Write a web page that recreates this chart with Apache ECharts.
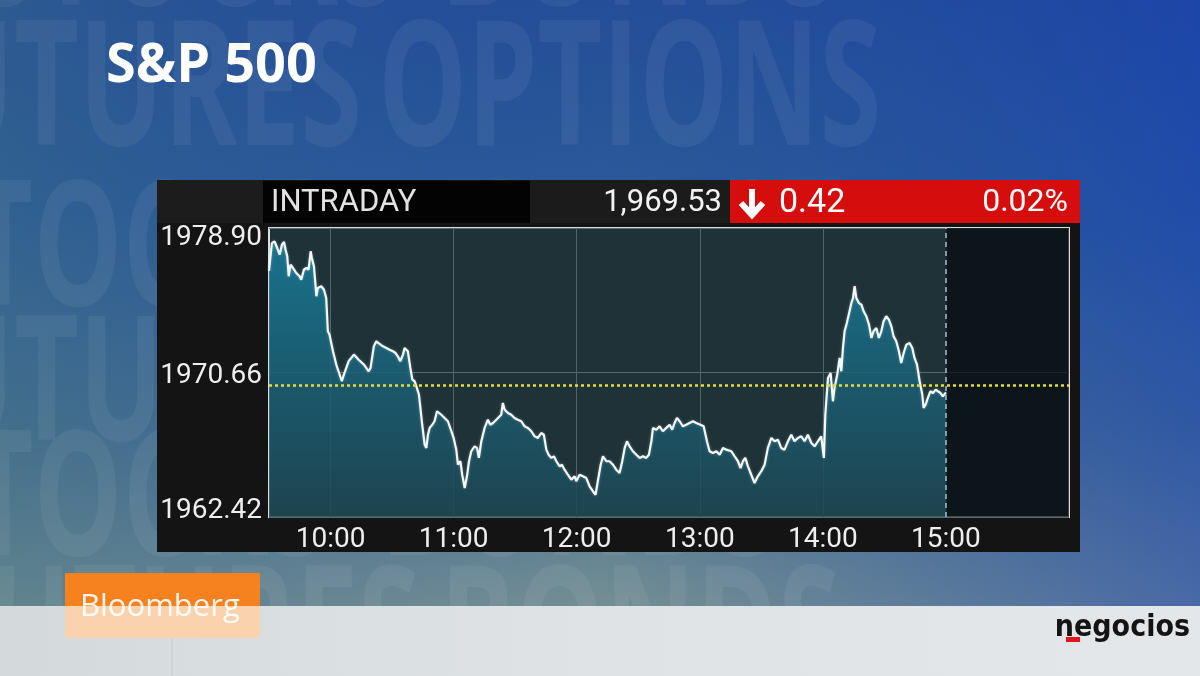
<!DOCTYPE html>
<html>
<head>
<meta charset="utf-8">
<script src="https://cdn.jsdelivr.net/npm/echarts@6/dist/echarts.min.js"></script>
<style>
html,body{margin:0;padding:0;background:#2c5a96;}
#chart{width:1200px;height:676px;}
</style>
</head>
<body>
<div id="chart"></div>
<script>
// ---- data (minutes after the 9:30 open, index level) ----
const minutes = [0,1.4,2.7,4.0,5.2,6.3,7.3,8.1,8.9,9.6,
10.5,11.7,13.3,14.9,15.7,17.0,18.2,19.3,20.3,20.9,
21.9,22.6,23.1,23.8,25.5,26.8,27.9,28.7,29.5,31.2,
32.8,33.9,35.5,36.5,38.8,41.4,43.7,46.3,48.6,49.5,
51.1,52.3,54.4,55.5,57.2,58.8,60.4,61.7,62.8,64.0,
65.3,66.1,66.9,67.7,68.9,69.9,71.0,72.1,73.1,73.8,
74.7,75.9,76.7,77.5,78.3,79.6,80.7,81.9,82.8,84.0,
85.6,87.2,88.9,90.0,91.3,92.1,93.3,94.2,95.4,96.5,
97.5,98.6,100.2,101.4,102.3,103.5,105.1,106.7,107.9,109.2,
110.8,111.6,113.2,114.0,114.9,116.5,118.1,119.7,121.3,123.0,
124.6,126.2,127.9,129.5,131.1,132.7,134.0,135.2,136.3,137.6,
138.9,140.1,141.7,142.8,144.1,145.7,147.4,149.0,149.8,151.4,
153.0,154.7,156.3,157.9,159.2,160.3,161.7,162.8,164.4,166.0,
167.7,169.3,170.9,172.2,173.4,174.5,175.8,177.4,179.1,180.7,
182.3,183.9,185.2,186.4,187.2,188.8,190.4,192.0,193.7,195.3,
196.6,197.7,198.9,200.2,201.8,203.4,205.0,206.7,208.3,210.3,
211.9,213.5,214.8,216.4,218.1,219.7,221.3,222.9,223.7,225.4,
227.0,228.6,229.9,231.0,232.2,233.5,235.1,236.7,238.3,240.0,
241.6,243.2,244.9,246.5,248.1,249.7,251.3,253.0,254.6,256.2,
257.8,259.5,261.1,262.7,264.4,266.0,267.6,269.2,270.5,271.2,
272.5,273.8,274.9,275.7,277.0,278.2,279.0,279.8,280.6,281.7,
283.0,283.9,284.7,285.5,286.3,287.6,288.8,289.9,291.2,292.5,
293.7,294.7,296.1,297.3,298.5,299.6,300.9,302.2,303.4,304.5,
305.8,307.1,308.2,309.4,310.7,312.3,313.6,314.7,315.9,317.2,
318.5,319.1,320.1,321.2,322.4,323.7,325.0,326.1,327.4,328.5,330.0];

const values = [1976.45,1978.04,1978.14,1977.76,1977.38,1977.95,1978.10,1977.66,1977.29,1976.15,
1976.81,1976.62,1976.33,1976.15,1975.95,1976.52,1976.62,1976.52,1977.57,1977.19,
1976.72,1975.76,1975.01,1975.48,1975.58,1975.38,1974.91,1973.01,1972.82,1971.87,
1971.11,1970.73,1970.16,1970.54,1971.30,1971.68,1971.39,1971.11,1970.73,1970.92,
1972.15,1972.44,1972.25,1972.15,1972.06,1971.96,1971.87,1971.77,1971.58,1971.30,
1971.68,1972.06,1972.15,1971.87,1970.92,1970.25,1970.16,1969.78,1969.39,1968.64,
1967.68,1966.54,1966.36,1967.11,1967.50,1967.68,1967.88,1968.45,1968.54,1968.25,
1968.07,1967.88,1967.31,1966.93,1966.26,1965.40,1965.60,1964.83,1964.07,1964.74,
1965.60,1966.17,1966.45,1966.36,1965.79,1966.74,1967.50,1967.97,1967.68,1967.78,
1967.97,1968.07,1968.25,1968.92,1968.54,1968.35,1968.25,1968.07,1967.97,1967.88,
1967.59,1967.50,1967.31,1967.02,1966.93,1967.21,1967.11,1966.26,1965.97,1965.79,
1965.88,1965.60,1965.31,1965.40,1965.12,1964.83,1964.55,1964.74,1964.46,1964.83,
1964.74,1964.64,1964.17,1963.89,1963.69,1964.46,1965.40,1965.88,1965.60,1965.60,
1965.40,1965.12,1964.93,1965.60,1966.36,1966.74,1966.45,1966.17,1965.97,1965.79,
1965.88,1965.79,1965.97,1966.74,1967.50,1967.40,1967.59,1967.31,1967.50,1967.68,
1967.40,1967.78,1968.07,1967.88,1967.59,1967.68,1967.78,1967.88,1967.78,1967.68,
1967.59,1966.74,1966.17,1966.07,1966.17,1965.97,1966.36,1966.26,1966.36,1966.17,
1965.88,1965.60,1965.21,1965.60,1965.79,1965.31,1964.83,1964.36,1964.74,1965.03,
1965.40,1966.36,1966.93,1966.74,1966.83,1966.36,1966.26,1966.74,1967.11,1966.74,
1966.93,1967.02,1966.74,1967.11,1966.64,1966.45,1966.74,1967.02,1965.79,1968.25,
1970.35,1970.63,1969.02,1969.78,1970.54,1971.49,1970.73,1972.06,1973.01,1973.48,
1974.15,1974.62,1974.91,1975.58,1974.91,1974.62,1974.53,1974.15,1973.87,1973.39,
1972.63,1973.01,1973.20,1972.63,1973.01,1973.58,1973.87,1973.67,1973.29,1972.72,
1972.44,1971.87,1971.20,1971.77,1972.25,1972.34,1972.06,1971.49,1971.11,1970.16,
1969.39,1968.64,1968.83,1969.21,1969.59,1969.49,1969.68,1969.59,1969.49,1969.30,1969.53];

const xTickMinutes = [30, 90, 150, 210, 270, 330];       // 10:00 ... 15:00
const yTicks = [1962.42, 1970.66, 1978.90];
const sessionMinutes = [0, 390];                          // 9:30 -> 16:00
const openClock = 9 * 60 + 30;
const nowMinute = 330;                                    // 15:00
const prevClose = 1969.95;
const lastPrice = 1969.53;
const netChange = -0.42;
const pctChange = -0.02;
const titleText = 'S&P 500';
const panelLabel = 'INTRADAY';

// ---- build ----
const seriesData = minutes.map((m, i) => [m, values[i]]);
function clock(m) {
  const t = Math.round(openClock + m);
  const h = Math.floor(t / 60), mm = t % 60;
  return h + ':' + (mm < 10 ? '0' : '') + mm;
}
function fmtThousands(v) {
  const s = v.toFixed(2).split('.');
  return s[0].replace(/\B(?=(\d{3})+(?!\d))/g, ',') + '.' + s[1];
}

const W = 1200, H = 676;
const bgFont = 'bold 175px "Open Sans"';
const bgFill = 'rgba(255,255,255,0.06)';
function bgWord(text, x, y, align) {
  return { type: 'text', z: -90, x: x, y: y, scaleX: 0.64, originX: 0, originY: 0,
    style: { text: text, x: 0, y: 0, font: bgFont, fill: bgFill, align: align, verticalAlign: 'middle' } };
}

const graphics = [
  // page background
  { type: 'rect', z: -100, shape: { x: 0, y: 0, width: W, height: 607 },
    style: { fill: new echarts.graphic.LinearGradient(0, 0, 0, 1, [
      { offset: 0, color: '#244e98' }, { offset: 0.35, color: '#2b5a98' },
      { offset: 0.7, color: '#466f90' }, { offset: 1, color: '#748f93' }]) } },
  { type: 'rect', z: -99, shape: { x: 0, y: 0, width: W, height: 607 },
    style: { fill: new echarts.graphic.LinearGradient(0, 0, 1, 0, [
      { offset: 0, color: 'rgba(60,110,130,0.35)' }, { offset: 0.5, color: 'rgba(30,70,160,0)' },
      { offset: 1, color: 'rgba(20,60,190,0.45)' }]) } },
  // faded background words
  bgWord('STOCKS', 400, -45, 'right'), bgWord('BONDS', 440, -45, 'left'),
  bgWord('FUTURES', 362, 95, 'right'), bgWord('OPTIONS', 378, 95, 'left'),
  bgWord('STOCKS', 330, 255, 'right'), bgWord('BONDS', 380, 255, 'left'),
  bgWord('FUTURES', 362, 390, 'right'), bgWord('OPTIONS', 378, 390, 'left'),
  bgWord('STOCKS', 330, 505, 'right'), bgWord('BONDS', 380, 505, 'left'),
  bgWord('FUTURES', 420, 640, 'right'), bgWord('BONDS', 440, 640, 'left'),
  // bottom strip
  { type: 'rect', z: -80, shape: { x: 0, y: 606, width: W, height: 70 },
    style: { fill: new echarts.graphic.LinearGradient(0, 0, 1, 0, [
      { offset: 0, color: '#d4dadc' }, { offset: 0.5, color: '#dfe3e5' }, { offset: 1, color: '#e4e7e9' }]) } },
  { type: 'line', z: -79, shape: { x1: 172, y1: 606, x2: 172, y2: 676 }, style: { stroke: '#c6cbce', lineWidth: 1 } },
  // Bloomberg tag
  { type: 'rect', z: -70, shape: { x: 65, y: 573, width: 195, height: 34 }, style: { fill: '#f5821f' } },
  { type: 'rect', z: -70, shape: { x: 65, y: 606, width: 195, height: 32 }, style: { fill: '#fbd2ae' } },
  { type: 'text', z: -69, style: { text: 'Bloomberg', x: 80, y: 607, font: '31px "Open Sans"',
      fill: 'rgba(255,255,255,0.92)', align: 'left', verticalAlign: 'middle' } },
  // negocios logo
  { type: 'text', z: -69, style: { text: 'negocios', x: 1190, y: 628, font: 'bold 30px "DejaVu Sans Condensed", "Liberation Sans Narrow", "Roboto"',
      fill: '#141414', align: 'right', verticalAlign: 'middle' } },
  { type: 'rect', z: -68, shape: { x: 1066, y: 637, width: 14, height: 5 }, style: { fill: '#e2131d' } },
  // title
  { type: 'text', z: -60, style: { text: titleText, x: 106, y: 67, font: 'bold 54px "Open Sans"',
      fill: '#ffffff', align: 'left', verticalAlign: 'middle' } },
  // chart panel
  { type: 'rect', z: -50, shape: { x: 157, y: 180, width: 923, height: 372 }, style: { fill: '#141414' } },
  { type: 'rect', z: -49, shape: { x: 157, y: 180, width: 106, height: 43 }, style: { fill: '#1c1c1c' } },
  { type: 'rect', z: -49, shape: { x: 263, y: 181, width: 267, height: 42 }, style: { fill: '#030303' } },
  { type: 'rect', z: -49, shape: { x: 530, y: 180, width: 200, height: 43 }, style: { fill: '#1b1b1b' } },
  { type: 'rect', z: -49, shape: { x: 730, y: 180, width: 350, height: 43 }, style: { fill: '#d50d0d' } },
  { type: 'text', z: -48, style: { text: panelLabel, x: 271, y: 203, font: '31px Roboto',
      fill: '#e2e2e2', align: 'left', verticalAlign: 'middle' } },
  { type: 'text', z: -48, style: { text: fmtThousands(lastPrice), x: 722, y: 203, font: '31px Roboto',
      fill: '#f2f2f2', align: 'right', verticalAlign: 'middle' } },
  { type: 'text', z: -48, style: { text: Math.abs(netChange).toFixed(2), x: 779, y: 203, font: '34px Roboto',
      fill: '#ffffff', align: 'left', verticalAlign: 'middle' } },
  { type: 'text', z: -48, style: { text: Math.abs(pctChange).toFixed(2) + '%', x: 1068, y: 203, font: '32px Roboto',
      fill: '#ffffff', align: 'right', verticalAlign: 'middle' } },
  { type: 'polyline', z: -48, shape: { points: [[752, 189], [752, 213]] },
    style: { stroke: '#ffffff', lineWidth: 6, fill: null } },
  { type: 'polyline', z: -48, shape: { points: [[741, 203], [752, 215], [763, 203]] },
    style: { stroke: '#ffffff', lineWidth: 6, fill: null, lineJoin: 'miter' } }
];

const chart = echarts.init(document.getElementById('chart'), null, { renderer: 'canvas' });
chart.setOption({
  animation: false,
  graphic: { elements: graphics },
  grid: { left: 269, top: 228, width: 800, height: 289, show: true,
    backgroundColor: '#1f3237', borderColor: '#d9dddf', borderWidth: 2 },
  xAxis: {
    type: 'value', min: sessionMinutes[0], max: sessionMinutes[1],
    axisLine: { show: false },
    axisTick: { show: false, customValues: xTickMinutes },
    splitLine: { show: true, lineStyle: { color: '#52646a', width: 1 } },
    axisLabel: { customValues: xTickMinutes, formatter: v => clock(v), color: '#eeeeee',
      fontSize: 28, fontFamily: 'Roboto', margin: 9 }
  },
  yAxis: {
    type: 'value', min: yTicks[0], max: yTicks[2],
    axisLine: { show: false },
    axisTick: { show: false, customValues: yTicks },
    splitLine: { show: true, lineStyle: { color: '#5a6a70', width: 1 } },
    axisLabel: {
      customValues: yTicks, margin: 7, color: '#eeeeee', fontSize: 28, fontFamily: 'Roboto',
      formatter: v => {
        const s = v.toFixed(2);
        if (Math.abs(v - yTicks[2]) < 1e-6) return '{t|' + s + '}';
        if (Math.abs(v - yTicks[0]) < 1e-6) return '{b|' + s + '}';
        return '{m|' + s + '}';
      },
      rich: {
        t: { fontSize: 28, fontFamily: 'Roboto', color: '#eeeeee', padding: [20, 0, 0, 0] },
        m: { fontSize: 28, fontFamily: 'Roboto', color: '#eeeeee', padding: [7, 0, 0, 0] },
        b: { fontSize: 28, fontFamily: 'Roboto', color: '#eeeeee', padding: [0, 0, 12, 0] }
      }
    }
  },
  series: [{
    type: 'line', data: seriesData, showSymbol: false, smooth: false,
    lineStyle: { color: '#f4f8f8', width: 2.2, shadowColor: 'rgba(200,240,255,0.35)', shadowBlur: 3 },
    areaStyle: { opacity: 1, color: new echarts.graphic.LinearGradient(0, 0, 0, 1, [
      { offset: 0, color: 'rgba(24,122,150,0.9)' },
      { offset: 0.5, color: 'rgba(26,96,118,0.85)' },
      { offset: 1, color: 'rgba(30,70,82,0.85)' }]) },
    markArea: { silent: true, z: 1, itemStyle: { color: 'rgba(5,11,15,0.72)' },
      data: [[{ xAxis: nowMinute }, { xAxis: sessionMinutes[1] }]] },
    markLine: { silent: true, symbol: 'none', z: 5, label: { show: false },
      data: [
        { yAxis: prevClose, lineStyle: { color: '#e4dc3a', type: [3, 3], width: 2.5 } },
        { xAxis: nowMinute, lineStyle: { color: '#a8bfcc', type: [5, 4], width: 1.5 } }
      ] }
  }]
});
</script>
</body>
</html>
